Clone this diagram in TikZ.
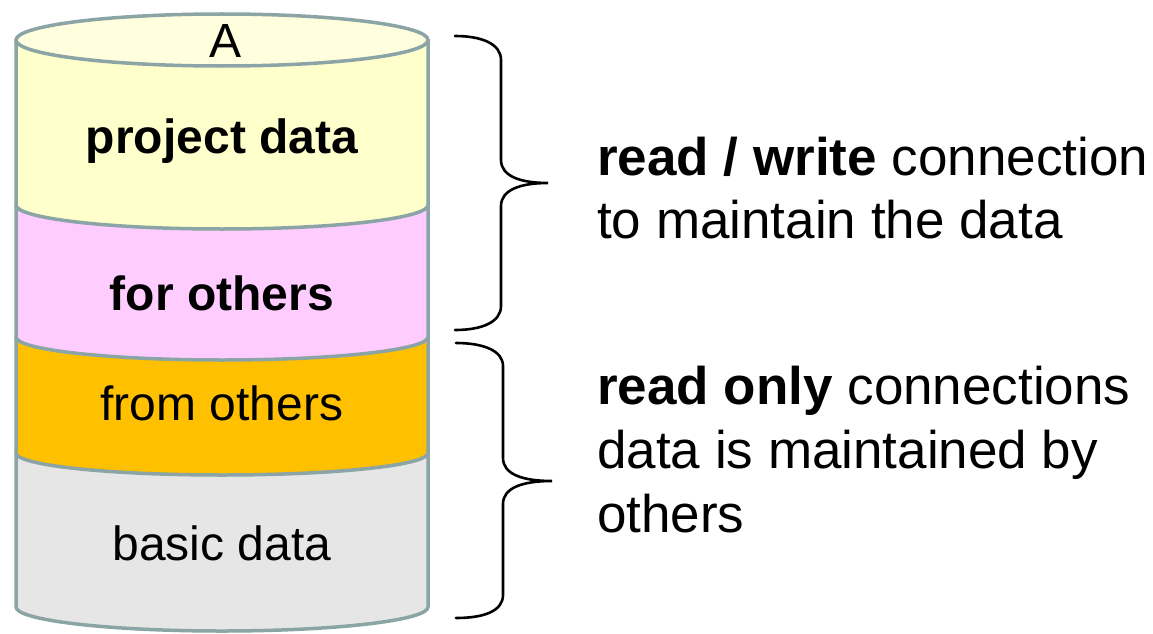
\documentclass[tikz,border=0pt]{standalone}
\usepackage{fontspec}
\setmainfont{Liberation Sans}
\definecolor{rim}{RGB}{139,164,166}
\definecolor{lyellow}{RGB}{255,255,204}
\definecolor{topyellow}{RGB}{255,255,222}
\definecolor{lpink}{RGB}{255,204,255}
\definecolor{lorange}{RGB}{255,192,0}
\definecolor{lgray}{RGB}{230,230,230}
\tikzset{
  seg/.style={draw=rim, line width=3.5pt, line join=round},
  lbl/.style={anchor=base, inner sep=0pt, font=\fontsize{48}{58}\selectfont},
  rtxt/.style={anchor=base west, inner sep=0pt, font=\fontsize{53}{64}\selectfont},
  brace/.style={draw=black, line width=2.6pt, line cap=round}
}
\begin{document}
\begin{tikzpicture}[x=1pt,y=-1pt]
\useasboundingbox (0,0) rectangle (1153,634);
% cylinder segments, drawn bottom to top
\path[seg, fill=lgray] (16,453) -- (16,607) arc[start angle=180,end angle=360,x radius=206pt,y radius=24pt] -- (428,453) -- cycle;
\path[seg, fill=lorange] (16,337) -- (16,453) arc[start angle=180,end angle=360,x radius=206pt,y radius=22pt] -- (428,337) -- cycle;
\path[seg, fill=lpink] (16,205) -- (16,337) arc[start angle=180,end angle=360,x radius=206pt,y radius=23pt] -- (428,205) -- cycle;
\path[seg, fill=lyellow] (16,40) -- (16,205) arc[start angle=180,end angle=360,x radius=206pt,y radius=24pt] -- (428,40) -- cycle;
\path[seg, fill=topyellow] (222,40) ellipse[x radius=206pt, y radius=26pt];
% labels
\node[lbl] (A) at (226,58) {A};
\node[lbl] (proj) at (222,153) {\bfseries project data};
\node[lbl] (forothers) at (222,310) {\bfseries for others};
\node[lbl] (fromothers) at (222,420) {from others};
\node[lbl] (basic) at (222,560) {basic data};
% braces
\coordinate (b1top) at (455,36);
\coordinate (b1tip) at (548,183);
\coordinate (b1bot) at (455,330);
\draw[brace] (b1top) .. controls (482,36) and (501,44) .. (501,60) -- (501,160)
  .. controls (501,176) and (520,183) .. (b1tip)
  .. controls (520,183) and (501,190) .. (501,206) -- (501,306)
  .. controls (501,322) and (482,330) .. (b1bot);
\coordinate (b2top) at (456,343);
\coordinate (b2tip) at (552,481);
\coordinate (b2bot) at (456,618);
\draw[brace] (b2top) .. controls (484,343) and (503,351) .. (503,366) -- (503,458)
  .. controls (503,474) and (522,481) .. (b2tip)
  .. controls (522,481) and (503,488) .. (503,504) -- (503,595)
  .. controls (503,611) and (484,618) .. (b2bot);
% right-hand texts
\node[rtxt] (rw1) at (597,175) {\bfseries read / write\mdseries{} connection};
\node[rtxt] (rw2) at (597,238) {to maintain the data};
\node[rtxt] (ro1) at (597,404) {\bfseries read only\mdseries{} connections};
\node[rtxt] (ro2) at (597,468) {data is maintained by};
\node[rtxt] (ro3) at (597,532) {others};
\end{tikzpicture}
\end{document}
